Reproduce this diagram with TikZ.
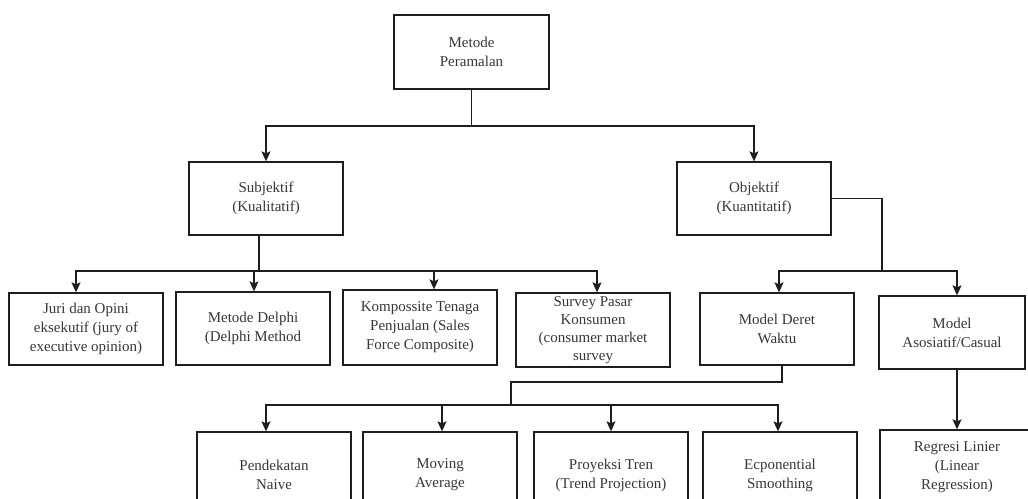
\documentclass[tikz,border=0pt]{standalone}
\usepackage{fontspec}
\setmainfont{Liberation Serif}
\usetikzlibrary{arrows.meta,calc}
\definecolor{linec}{RGB}{30,30,30}
\definecolor{textc}{RGB}{55,55,55}
\begin{document}
\begin{tikzpicture}[x=1pt,y=-1pt,
  box/.style={draw=linec, line width=1.3pt, fill=white, minimum width=154pt, minimum height=73pt,
    inner sep=2pt, align=center, text=textc, font=\fontsize{15}{19}\selectfont},
  conn/.style={draw=linec, line width=1.3pt},
  arr/.style={conn, -{Stealth[length=10pt,width=9pt,inset=2pt]}}]
\useasboundingbox (0,0) rectangle (1028,498);
\fill[white] (0,0) rectangle (1028,498);
\clip (0,0) rectangle (1028,498);
% nodes
\node[box, minimum width=155pt, minimum height=74pt] (top) at (471.5,52) {Metode\\Peramalan};
\node[box] (subj) at (266,198.5) {Subjektif\\(Kualitatif)};
\node[box] (obj) at (754,198.5) {Objektif\\(Kuantitatif)};
\node[box, minimum height=72pt] (juri) at (86,329) {Juri dan Opini\\eksekutif (jury of\\executive opinion)};
\node[box] (delphi) at (253,328.5) {Metode Delphi\\(Delphi Method};
\node[box, minimum height=75pt] (kompo) at (420,327.5) {Kompossite Tenaga\\Penjualan (Sales\\Force Composite)};
\node[box, minimum height=74pt, font=\fontsize{15}{18}\selectfont] (survey) at (593,330) {Survey Pasar\\Konsumen\\(consumer market\\survey};
\node[box, minimum height=72pt] (deret) at (777,329) {Model Deret\\Waktu};
\node[box, minimum width=146pt] (asos) at (952,332.5) {Model\\Asosiatif/Casual};
\node[box, minimum height=86pt] (pend) at (274,475) {Pendekatan\\Naive};
\node[box, minimum height=86pt] (moving) at (440,475) {Moving\\Average};
\node[box, minimum height=86pt] (proy) at (611,475) {Proyeksi Tren\\(Trend Projection)};
\node[box, minimum height=86pt] (ecp) at (780,475) {Ecponential\\Smoothing};
\node[box, minimum height=74pt] (regr) at (957,467) {Regresi Linier\\(Linear\\Regression)};
% connectors
\coordinate (j1) at (471.5,126);
\draw[conn] (top.south) -- (j1);
\draw[arr] (j1) -| (subj.north);
\draw[arr] (j1) -| (obj.north);
\coordinate (j2) at (259,271);
\draw[conn] ([xshift=-7pt]subj.south) -- (j2);
\draw[arr] (j2) -| ([xshift=-10pt]juri.north);
\draw[arr] (j2) -| ([xshift=1pt]delphi.north);
\draw[arr] (j2) -| ([xshift=14pt]kompo.north);
\draw[arr] (j2) -| ([xshift=4pt]survey.north);
\coordinate (j3) at (882,271);
\draw[conn] (obj.east) -| (j3);
\draw[arr] (j3) -| ([xshift=2pt]deret.north);
\draw[arr] (j3) -| ([xshift=5pt]asos.north);
\coordinate (j4) at (511,382);
\coordinate (j5) at (511,405);
\draw[conn] ([xshift=5pt]deret.south) |- (j4) -- (j5);
\draw[arr] (j5) -| ([xshift=-8pt]pend.north);
\draw[arr] (j5) -| ([xshift=2pt]moving.north);
\draw[arr] (j5) -| (proy.north);
\draw[arr] (j5) -| ([xshift=-2pt]ecp.north);
\draw[arr] ([xshift=5pt]asos.south) -- (regr.north);
\end{tikzpicture}
\end{document}
